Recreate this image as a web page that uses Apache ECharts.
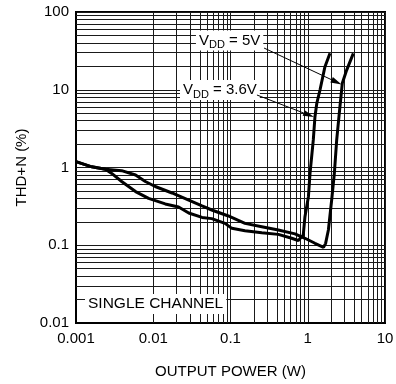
<!DOCTYPE html>
<html>
<head>
<meta charset="utf-8">
<script src="https://cdn.jsdelivr.net/npm/echarts@6/dist/echarts.min.js"></script>
<style>
  html, body { margin: 0; padding: 0; background: #fff; }
  #chart { width: 396px; height: 384px; }
</style>
</head>
<body>
<div id="chart"></div>
<script>
// tick labels
const xTickLabels = ['0.001', '0.01', '0.1', '1', '10'];
const yTickLabels = ['0.01', '0.1', '1', '10', '100'];

// VDD = 5V curve (W, %)
const power5V = [0.001, 0.0016, 0.0024, 0.0039, 0.0059, 0.0079, 0.0106, 0.0175, 0.0288, 0.0428, 0.0572,
  0.0938, 0.154, 0.254, 0.416, 0.684, 0.92, 1.24, 1.6, 1.7, 1.85, 2.04, 2.21, 2.37, 2.61, 2.8, 3.19, 3.89];
const thd5V = [1.19, 1.02, 0.95, 0.91, 0.80, 0.66, 0.57, 0.47, 0.38, 0.32, 0.284,
  0.238, 0.191, 0.173, 0.157, 0.14, 0.123, 0.106, 0.094, 0.105, 0.157, 0.382, 0.842, 2.26, 6.05, 12.1, 17.9, 29.4];

// VDD = 3.6V curve
const power36V = [0.001, 0.0016, 0.0024, 0.0029, 0.0039, 0.0059, 0.0087, 0.0143, 0.0213, 0.0288, 0.0428,
  0.0572, 0.0849, 0.104, 0.154, 0.254, 0.416, 0.619, 0.755, 0.875, 0.92, 1.02, 1.07, 1.18, 1.24, 1.31, 1.44, 1.67, 1.94];
const thd36V = [1.19, 1.02, 0.95, 0.84, 0.66, 0.49, 0.40, 0.34, 0.31, 0.26, 0.228,
  0.22, 0.191, 0.165, 0.154, 0.145, 0.138, 0.123, 0.115, 0.136, 0.233, 0.421, 0.842, 2.26, 4.5, 6.7, 9.93, 19.8, 29.4];

const minorSteps = [2, 3, 4, 5, 6, 7, 8, 9];

const FONT = '"Liberation Sans", Arial, sans-serif';
const chart = echarts.init(document.getElementById('chart'));

function pairs(xs, ys) {
  return xs.map((x, i) => [x, ys[i]]);
}

// 2..9 lines inside each decade
function minorValues(from, decades) {
  const out = [];
  for (let d = 0; d < decades; d++) {
    const base = from * Math.pow(10, d);
    minorSteps.forEach(s => out.push(+(base * s).toPrecision(3)));
  }
  return out;
}

const minorLines = minorValues(0.001, 4).map(v => ({ xAxis: v }))
  .concat(minorValues(0.01, 4).map(v => ({ yAxis: v })));

const curveStyle = { color: '#000', width: 3 };

chart.setOption({
  animation: false,
  grid: {
    left: 76, top: 12, right: 11, bottom: 61,
    show: true, borderColor: '#000', borderWidth: 2,
    outerBoundsMode: 'none'
  },
  xAxis: {
    type: 'log', logBase: 10, min: 0.001, max: 10,
    name: 'OUTPUT POWER (W)', nameLocation: 'middle', nameGap: 41,
    nameTextStyle: { fontSize: 15, fontFamily: FONT, color: '#000' },
    axisLine: { show: true, lineStyle: { color: '#000', width: 2 } },
    axisTick: { show: false },
    axisLabel: {
      fontSize: 15, fontFamily: FONT, color: '#000', margin: 8,
      showMinLabel: true, showMaxLabel: true,
      formatter: v => xTickLabels[Math.round(Math.log10(v)) + 3]
    },
    splitLine: { show: true, lineStyle: { color: '#1a1a1a', width: 1 } }
  },
  yAxis: {
    type: 'log', logBase: 10, min: 0.01, max: 100,
    name: 'THD+N (%)', nameLocation: 'middle', nameGap: 44,
    nameTextStyle: { fontSize: 15, fontFamily: FONT, color: '#000' },
    axisLine: { show: true, lineStyle: { color: '#000', width: 2 } },
    axisTick: { show: false },
    axisLabel: {
      fontSize: 15, fontFamily: FONT, color: '#000', margin: 7,
      showMinLabel: true, showMaxLabel: true,
      formatter: v => yTickLabels[Math.round(Math.log10(v)) + 2]
    },
    splitLine: { show: true, lineStyle: { color: '#1a1a1a', width: 1 } }
  },
  series: [
    {
      name: 'minor grid', type: 'line', data: [], z: 1, silent: true,
      markLine: {
        z: 1, silent: true, symbol: 'none', animation: false,
        label: { show: false },
        lineStyle: { color: '#1a1a1a', width: 1, type: 'solid' },
        emphasis: { disabled: true },
        data: minorLines
      }
    },
    {
      name: 'VDD = 5V', type: 'line', data: pairs(power5V, thd5V), z: 3,
      showSymbol: false, symbol: 'none', lineStyle: curveStyle, silent: true
    },
    {
      name: 'VDD = 3.6V', type: 'line', data: pairs(power36V, thd36V), z: 3,
      showSymbol: false, symbol: 'none', lineStyle: curveStyle, silent: true
    }
  ]
});

// annotations, anchored in data coordinates
const toPx = p => chart.convertToPixel({ gridIndex: 0 }, p);

const labelRich = {
  v: { fontSize: 15, fontFamily: FONT, fill: '#000', lineHeight: 20, verticalAlign: 'middle' },
  s: { fontSize: 11, fontFamily: FONT, fill: '#000', lineHeight: 20, verticalAlign: 'bottom' }
};

function vddLabel(volts, anchor) {
  const p = toPx(anchor);
  return {
    type: 'text', x: p[0], y: p[1], z: 10, silent: true,
    style: {
      text: '{v|V}{s|DD}{v| = ' + volts + '}',
      rich: labelRich, verticalAlign: 'middle', align: 'left',
      backgroundColor: '#fff', padding: [0, 3]
    }
  };
}

function arrow(from, to) {
  const a = toPx(from), b = toPx(to);
  const dx = b[0] - a[0], dy = b[1] - a[1];
  const len = Math.sqrt(dx * dx + dy * dy);
  const ux = dx / len, uy = dy / len;
  const headLen = 11, headHalf = 3;
  const bx = b[0] - ux * headLen, by = b[1] - uy * headLen;
  return [
    {
      type: 'line', z: 11, silent: true,
      shape: { x1: a[0], y1: a[1], x2: bx, y2: by },
      style: { stroke: '#000', lineWidth: 1 }
    },
    {
      type: 'polygon', z: 11, silent: true,
      shape: { points: [[b[0], b[1]], [bx - uy * headHalf, by + ux * headHalf], [bx + uy * headHalf, by - ux * headHalf]] },
      style: { fill: '#000' }
    }
  ];
}

const scPos = toPx([0.001308, 0.01755]);

chart.setOption({
  graphic: [
    vddLabel('5V', [0.0357, 43.0]),
    vddLabel('3.6V', [0.0222, 9.93]),
    ...arrow([0.272, 34.4], [2.74, 11.7]),
    ...arrow([0.220, 8.56], [1.205, 4.46]),
    {
      type: 'text', x: scPos[0], y: scPos[1], z: 10, silent: true,
      style: {
        text: 'SINGLE CHANNEL', fontSize: 15.5, fontFamily: FONT, fill: '#000',
        verticalAlign: 'middle', align: 'left',
        backgroundColor: '#fff', padding: [2, 3]
      }
    }
  ]
});
</script>
</body>
</html>
